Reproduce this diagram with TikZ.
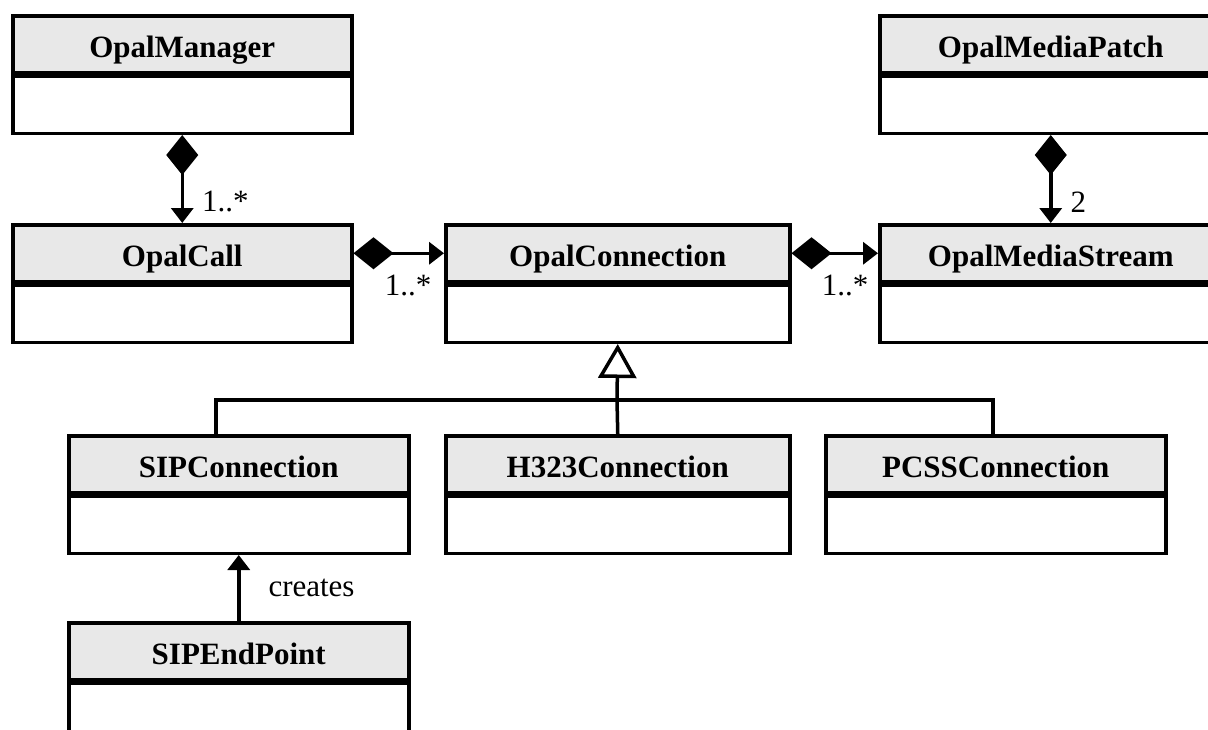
\documentclass[tikz,border=0pt]{standalone}
\usepackage{fontspec}
\setmainfont{Liberation Serif}
\usetikzlibrary{arrows.meta}
\tikzset{
  hdr/.style={draw, line width=3.5pt, fill=black!9, minimum height=57pt, anchor=north west,
    inner sep=0pt, text height=26pt, text depth=0pt, font=\fontsize{31}{37}\selectfont\bfseries},
  bdy/.style={draw, line width=3.5pt, fill=white, minimum height=57pt, anchor=north west, inner sep=0pt},
  conn/.style={line width=3.5pt},
  comp/.style={conn, {Diamond[length=40pt,width=32pt]}-{Triangle[length=15pt,width=22pt]}},
  assoc/.style={conn, -{Triangle[length=15pt,width=22pt]}},
  gen/.style={conn, -{Triangle[open,fill=white,length=34pt,width=38pt]}},
  lbl/.style={font=\fontsize{31}{37}\selectfont, inner sep=0pt},
}
\newcommand\umlclass[4]{%
  \node[hdr, minimum width=#3] (#1) at (#2) {#4};
  \node[bdy, minimum width=#3] (#1b) at (#1.south west) {};}
\begin{document}
\begin{tikzpicture}[x=1pt,y=-1pt]
  \useasboundingbox (0,0) rectangle (1208,729);
  \clip (0,0) rectangle (1208,729);
  \umlclass{mgr}{11,14}{339pt}{OpalManager}
  \umlclass{call}{11,223}{339pt}{OpalCall}
  \umlclass{con}{444,223}{344pt}{OpalConnection}
  \umlclass{mp}{878,14}{342pt}{OpalMediaPatch}
  \umlclass{ms}{878,223}{342pt}{OpalMediaStream}
  \umlclass{sipc}{67,434}{340pt}{SIPConnection}
  \umlclass{h323}{444,434}{344pt}{H323Connection}
  \umlclass{pcss}{824,434}{340pt}{PCSSConnection}
  \umlclass{sep}{67,621}{340pt}{SIPEndPoint}

  \draw[comp] (mgrb.south) -- (call.north)
    node[lbl, pos=0.76, anchor=west, xshift=18pt] (l1) {1..*};
  \draw[comp] (mpb.south) -- (ms.north)
    node[lbl, pos=0.76, anchor=west, xshift=18pt] (l2) {2};
  \draw[comp] (call.east) -- (con.west)
    node[lbl, pos=1, anchor=north east, xshift=-11pt, yshift=-20pt] (l3) {1..*};
  \draw[comp] (con.east) -- (ms.west)
    node[lbl, pos=1, anchor=north east, xshift=-8pt, yshift=-20pt] (l4) {1..*};

  \coordinate (g) at (617,400);
  \coordinate (gL) at (216,400);
  \coordinate (gR) at (993,400);
  \draw[gen] (g) -- (conb.south);
  \draw[conn] (gL |- sipc.north) -- (gL) -- (gR) -- (gR |- pcss.north);
  \draw[conn] (g) -- (h323.north);

  \draw[assoc] (sep.north) -- (sipcb.south)
    node[lbl, midway, anchor=west, xshift=28pt] (l5) {creates};
\end{tikzpicture}
\end{document}
